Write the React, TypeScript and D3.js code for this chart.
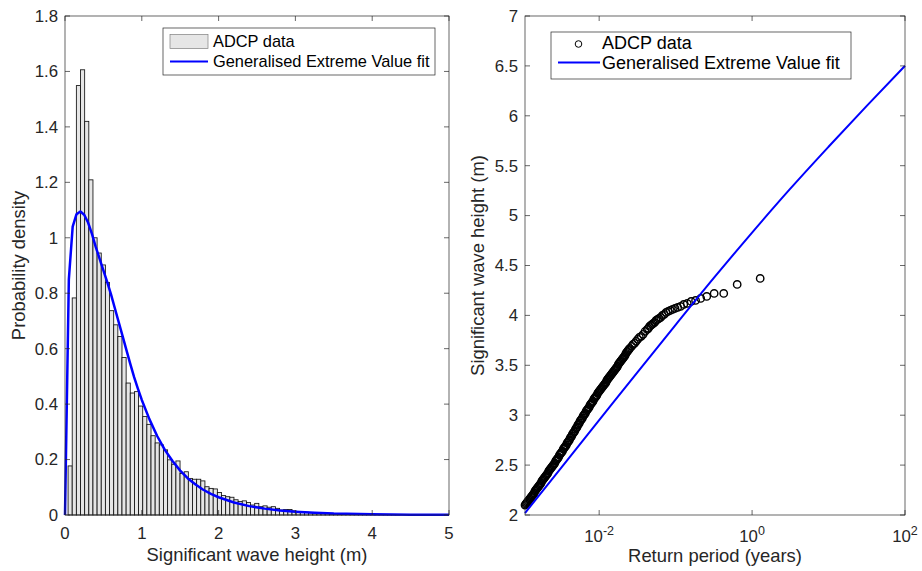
import React from "react";
import * as d3 from "d3";

// ---------- Left panel: histogram of significant wave height ----------
const histFirstEdge = 0.04;
const histBinWidth = 0.054;
const histDensity = [
  0.177, 0.783, 1.549, 1.606, 1.42, 1.209, 1.0, 0.945, 0.902, 0.839,
  0.737, 0.686, 0.644, 0.568, 0.476, 0.44, 0.445, 0.393, 0.355, 0.327,
  0.286, 0.26, 0.253, 0.235, 0.199, 0.183, 0.195, 0.15, 0.156, 0.132,
  0.129, 0.129, 0.123, 0.102, 0.096, 0.094, 0.081, 0.07, 0.066, 0.064,
  0.055, 0.049, 0.051, 0.045, 0.036, 0.042, 0.03, 0.033, 0.028, 0.03,
  0.024, 0.018, 0.02, 0.02, 0.015, 0.012, 0.012, 0.01, 0.008, 0.008,
  0.006, 0.006, 0.005, 0.004, 0.004, 0.003, 0.003, 0.002, 0.002, 0.002,
  0.001, 0.001, 0.001, 0.001, 0.0007, 0.0007, 0.0005, 0.0005, 0.0003, 0.0003,
];

// GEV fit pdf
const pdfX = [
  0, 0.05, 0.1, 0.15, 0.2, 0.25, 0.3, 0.35, 0.4, 0.45, 0.5, 0.55, 0.6, 0.65,
  0.7, 0.75, 0.8, 0.85, 0.9, 0.95, 1.0, 1.1, 1.2, 1.3, 1.4, 1.5, 1.6, 1.7,
  1.8, 1.9, 2.0, 2.2, 2.4, 2.6, 2.8, 3.0, 3.25, 3.5, 4.0, 4.5, 5.0,
];
const pdfY = [
  0, 0.85, 1.04, 1.085, 1.095, 1.083, 1.055, 1.015, 0.967, 0.925, 0.882, 0.84,
  0.795, 0.745, 0.695, 0.645, 0.595, 0.545, 0.497, 0.455, 0.415, 0.345, 0.285,
  0.235, 0.195, 0.16, 0.132, 0.11, 0.091, 0.076, 0.064, 0.045, 0.032, 0.023,
  0.016, 0.012, 0.008, 0.005, 0.0025, 0.0012, 0.0006,
];

const leftXTicks = [0, 1, 2, 3, 4, 5];
const leftYTicks = [0, 0.2, 0.4, 0.6, 0.8, 1, 1.2, 1.4, 1.6, 1.8];

// ---------- Right panel: return period vs Hs ----------
// dense part of the ADCP data (log10 of return period in years)
const bandExp = [
  -2.97, -2.96, -2.95, -2.94, -2.93, -2.92, -2.91, -2.9, -2.89, -2.88, -2.87, -2.86, -2.85, -2.84, -2.83, -2.82, -2.81, -2.8,
  -2.79, -2.78, -2.77, -2.76, -2.75, -2.74, -2.73, -2.72, -2.71, -2.7, -2.69, -2.68, -2.67, -2.66, -2.65, -2.64, -2.63, -2.62, -2.61, -2.6,
  -2.59, -2.58, -2.57, -2.56, -2.55, -2.54, -2.53, -2.52, -2.51, -2.5, -2.49, -2.48, -2.47, -2.46, -2.45, -2.44, -2.43, -2.42, -2.41, -2.4,
  -2.39, -2.38, -2.37, -2.36, -2.35, -2.34, -2.33, -2.32, -2.31, -2.3, -2.29, -2.28, -2.27, -2.26, -2.25, -2.24, -2.23, -2.22, -2.21, -2.2,
  -2.19, -2.18, -2.17, -2.16, -2.15, -2.14, -2.13, -2.12, -2.11, -2.1, -2.09, -2.08, -2.07, -2.06, -2.05, -2.04, -2.03, -2.02, -2.01, -2.0,
  -1.99, -1.98, -1.97, -1.96, -1.95, -1.94, -1.93, -1.92, -1.91, -1.9, -1.89, -1.88, -1.87, -1.86, -1.85, -1.84, -1.83, -1.82, -1.81, -1.8,
  -1.79, -1.78, -1.77, -1.76, -1.75, -1.74, -1.73, -1.72, -1.71, -1.7, -1.69, -1.68, -1.67, -1.66, -1.65, -1.64, -1.63, -1.62, -1.61, -1.6,
];
const bandHs = [
  2.1, 2.11, 2.12, 2.13, 2.14, 2.15, 2.16, 2.17, 2.18, 2.19, 2.2, 2.21, 2.22, 2.24, 2.25, 2.26, 2.27, 2.28,
  2.29, 2.3, 2.31, 2.32, 2.34, 2.35, 2.36, 2.37, 2.38, 2.39, 2.4, 2.41, 2.42, 2.44, 2.45, 2.46, 2.47, 2.48, 2.49, 2.5,
  2.51, 2.52, 2.54, 2.55, 2.56, 2.57, 2.58, 2.6, 2.61, 2.62, 2.63, 2.64, 2.66, 2.67, 2.68, 2.69, 2.7, 2.72, 2.73, 2.74,
  2.75, 2.77, 2.78, 2.79, 2.81, 2.82, 2.83, 2.84, 2.86, 2.87, 2.88, 2.9, 2.91, 2.92, 2.94, 2.95, 2.96, 2.97, 2.99, 3.0,
  3.01, 3.02, 3.04, 3.05, 3.06, 3.07, 3.08, 3.1, 3.11, 3.12, 3.13, 3.14, 3.16, 3.17, 3.18, 3.19, 3.2, 3.22, 3.23, 3.24,
  3.25, 3.26, 3.27, 3.28, 3.29, 3.3, 3.31, 3.32, 3.33, 3.35, 3.36, 3.37, 3.38, 3.39, 3.4, 3.41, 3.42, 3.43, 3.44, 3.45,
  3.46, 3.47, 3.48, 3.49, 3.51, 3.52, 3.53, 3.54, 3.55, 3.56, 3.57, 3.58, 3.59, 3.6, 3.62, 3.63, 3.64, 3.65, 3.66, 3.67,
];
// sparse tail (largest events)
const tailExp = [
  -1.575, -1.557, -1.537, -1.517, -1.496, -1.474, -1.45, -1.425, -1.399, -1.371,
  -1.356, -1.341, -1.325, -1.309, -1.292, -1.274, -1.256, -1.236, -1.216, -1.195,
  -1.173, -1.149, -1.124, -1.098, -1.07, -1.04, -1.008, -0.973, -0.935, -0.894,
  -0.848, -0.797, -0.739, -0.672, -0.593, -0.496, -0.371, -0.195, 0.106,
];
const tailHs = [
  3.69, 3.71, 3.72, 3.74, 3.76, 3.78, 3.79, 3.81, 3.84, 3.86,
  3.87, 3.89, 3.9, 3.91, 3.92, 3.93, 3.95, 3.96, 3.97, 3.98,
  4.0, 4.01, 4.03, 4.04, 4.05, 4.06, 4.07, 4.08, 4.09, 4.11,
  4.12, 4.14, 4.15, 4.17, 4.19, 4.22, 4.22, 4.31, 4.37,
];
// GEV return-level curve
const fitExp = [-2.97, -2.5, -2, -1.5, -1, -0.5, 0, 0.5, 1, 1.5, 2];
const fitHs = [2.02, 2.47, 2.95, 3.43, 3.905, 4.375, 4.83, 5.27, 5.69, 6.1, 6.5];

const rightYTicks = [2, 2.5, 3, 3.5, 4, 4.5, 5, 5.5, 6, 6.5, 7];
const rightXTickExps = [-2, 0, 2];

const FONT = "'Liberation Sans', Arial, Helvetica, sans-serif";
const AX = "#262626";
const BLUE = "#0000ff";

export default function App() {
  const top = 16;
  const bottom = 515;
  const L = { x0: 65, x1: 449 };
  const R = { x0: 525, x1: 905 };
  const tick = 5;
  const tickFs = 16.8;
  const labelFs = 18.4;

  const xL = d3.scaleLinear().domain([0, 5]).range([L.x0, L.x1]);
  const yL = d3.scaleLinear().domain([0, 1.8]).range([bottom, top]);
  const xR = d3.scaleLog().domain([Math.pow(10, -2.97), 100]).range([R.x0, R.x1]);
  const yR = d3.scaleLinear().domain([2, 7]).range([bottom, top]);

  const bins = histDensity.map((d, i) => ({
    x0: histFirstEdge + i * histBinWidth,
    x1: histFirstEdge + (i + 1) * histBinWidth,
    d,
  }));

  const pdfLine = d3
    .line<number>()
    .x((_, i) => xL(pdfX[i]))
    .y((v) => yL(v))(pdfY);

  const fitLine = d3
    .line<number>()
    .x((_, i) => xR(Math.pow(10, fitExp[i])))
    .y((v) => yR(v))
    .curve(d3.curveMonotoneX)(fitHs);

  const points = [
    ...bandExp.map((e, i) => ({ t: Math.pow(10, e), h: bandHs[i] })),
    ...tailExp.map((e, i) => ({ t: Math.pow(10, e), h: tailHs[i] })),
  ];

  const box = (x0: number, x1: number) => (
    <rect x={x0} y={top} width={x1 - x0} height={bottom - top} fill="none" stroke={AX} strokeWidth={0.7} />
  );

  return (
    <svg
      width={922}
      height={571}
      style={{ position: "absolute", left: 0, top: 0, background: "#fff" }}
      fontFamily={FONT}
    >
      <rect x={0} y={0} width={922} height={571} fill="#fff" />

      {/* ===== Left panel ===== */}
      <g>
        {bins.map((b, i) => (
          <rect
            key={i}
            x={xL(b.x0)}
            y={yL(b.d)}
            width={xL(b.x1) - xL(b.x0)}
            height={yL(0) - yL(b.d)}
            fill="#e6e6e6"
            stroke="#111"
            strokeWidth={0.85}
          />
        ))}
        <path d={pdfLine || ""} fill="none" stroke={BLUE} strokeWidth={2.5} strokeLinejoin="round" />
        {box(L.x0, L.x1)}
        {leftXTicks.map((t) => (
          <g key={"lx" + t}>
            <line x1={xL(t)} x2={xL(t)} y1={bottom} y2={bottom - tick} stroke={AX} strokeWidth={0.7} />
            <line x1={xL(t)} x2={xL(t)} y1={top} y2={top + tick} stroke={AX} strokeWidth={0.7} />
            <text x={xL(t)} y={bottom + 24} textAnchor="middle" fontSize={tickFs} fill={AX}>
              {t}
            </text>
          </g>
        ))}
        {leftYTicks.map((t) => (
          <g key={"ly" + t}>
            <line x1={L.x0} x2={L.x0 + tick} y1={yL(t)} y2={yL(t)} stroke={AX} strokeWidth={0.7} />
            <line x1={L.x1} x2={L.x1 - tick} y1={yL(t)} y2={yL(t)} stroke={AX} strokeWidth={0.7} />
            <text x={L.x0 - 7} y={yL(t)} dy="0.35em" textAnchor="end" fontSize={tickFs} fill={AX}>
              {d3.format("~g")(t)}
            </text>
          </g>
        ))}
        <text x={(L.x0 + L.x1) / 2} y={561} textAnchor="middle" fontSize={labelFs} fill={AX}>
          Significant wave height (m)
        </text>
        <text
          transform={`translate(25, ${(top + bottom) / 2}) rotate(-90)`}
          textAnchor="middle"
          fontSize={labelFs}
          fill={AX}
        >
          Probability density
        </text>
        {/* legend */}
        <rect x={163} y={28} width={272} height={47} fill="#fff" stroke={AX} strokeWidth={0.7} />
        <rect x={170} y={34.5} width={38} height={14} fill="#e6e6e6" stroke="#7f7f7f" strokeWidth={0.7} />
        <text x={213} y={47} fontSize={16.4} fill="#000">
          ADCP data
        </text>
        <line x1={170} x2={208} y1={61.5} y2={61.5} stroke={BLUE} strokeWidth={2} />
        <text x={213} y={67} fontSize={16.4} fill="#000">
          Generalised Extreme Value fit
        </text>
      </g>

      {/* ===== Right panel ===== */}
      <g>
        {points.map((p, i) => (
          <circle key={i} cx={xR(p.t)} cy={yR(p.h)} r={3.7} fill="none" stroke="#000" strokeWidth={1.4} />
        ))}
        <path d={fitLine || ""} fill="none" stroke={BLUE} strokeWidth={2} />
        {box(R.x0, R.x1)}
        {rightXTickExps.map((e) => (
          <g key={"rx" + e}>
            <line x1={xR(Math.pow(10, e))} x2={xR(Math.pow(10, e))} y1={bottom} y2={bottom - tick} stroke={AX} strokeWidth={0.7} />
            <line x1={xR(Math.pow(10, e))} x2={xR(Math.pow(10, e))} y1={top} y2={top + tick} stroke={AX} strokeWidth={0.7} />
            <text x={xR(Math.pow(10, e))} y={bottom + 27} textAnchor="middle" fontSize={tickFs} fill={AX}>
              10
              <tspan dy={-7} fontSize={12.5}>
                {e}
              </tspan>
            </text>
          </g>
        ))}
        {rightYTicks.map((t) => (
          <g key={"ry" + t}>
            <line x1={R.x0} x2={R.x0 + tick} y1={yR(t)} y2={yR(t)} stroke={AX} strokeWidth={0.7} />
            <line x1={R.x1} x2={R.x1 - tick} y1={yR(t)} y2={yR(t)} stroke={AX} strokeWidth={0.7} />
            <text x={R.x0 - 7} y={yR(t)} dy="0.35em" textAnchor="end" fontSize={tickFs} fill={AX}>
              {d3.format("~g")(t)}
            </text>
          </g>
        ))}
        <text x={(R.x0 + R.x1) / 2} y={562} textAnchor="middle" fontSize={labelFs} fill={AX}>
          Return period (years)
        </text>
        <text
          transform={`translate(484, ${(top + bottom) / 2}) rotate(-90)`}
          textAnchor="middle"
          fontSize={labelFs}
          fill={AX}
        >
          Significant wave height (m)
        </text>
        {/* legend */}
        <rect x={551} y={32} width={300} height={47} fill="#fff" stroke={AX} strokeWidth={0.7} />
        <circle cx={578.5} cy={44} r={3.3} fill="none" stroke="#000" strokeWidth={1} />
        <text x={602} y={49} fontSize={18} fill="#000">
          ADCP data
        </text>
        <line x1={558} x2={600} y1={62.5} y2={62.5} stroke={BLUE} strokeWidth={2} />
        <text x={602} y={68.5} fontSize={18} fill="#000">
          Generalised Extreme Value fit
        </text>
      </g>
    </svg>
  );
}
